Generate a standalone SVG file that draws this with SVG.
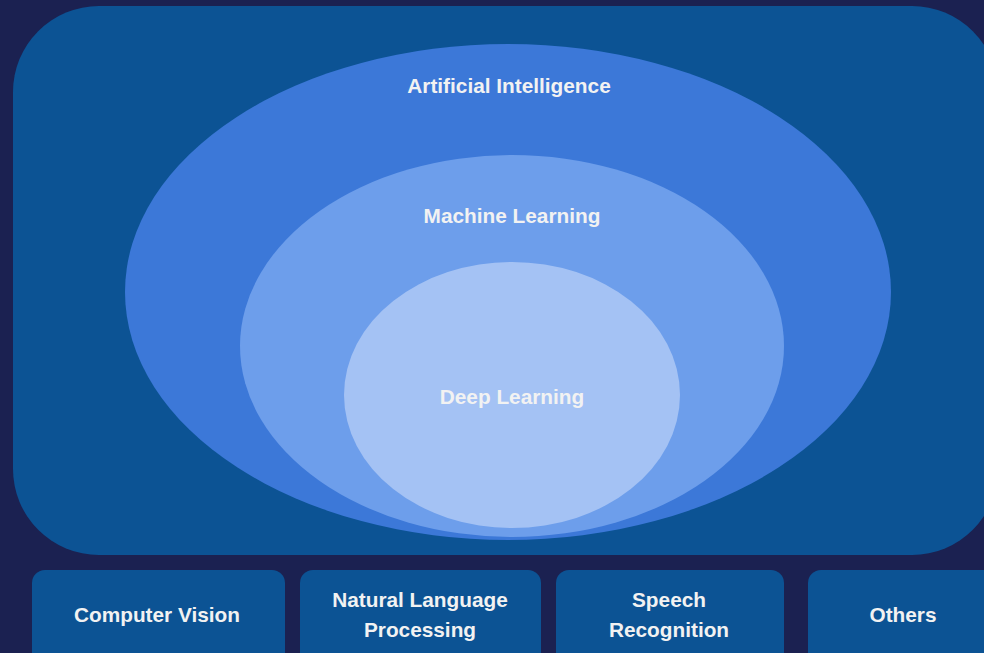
<svg xmlns="http://www.w3.org/2000/svg" width="984" height="653" viewBox="0 0 984 653">
<style>
.lbl{font-family:"Liberation Sans",Arial,sans-serif;font-weight:bold;font-size:20.8px;fill:#F2F2F2;text-anchor:middle}
.box{fill:#0C5394}
</style>
<rect x="0" y="0" width="984" height="653" fill="#1B2151"/>
<g id="frame">
<rect x="13" y="6" width="985" height="549" rx="86" ry="86" fill="#0C5394"/>
</g>
<g id="ai">
<ellipse cx="508" cy="292" rx="383" ry="248" fill="#3C78D8"/>
<text class="lbl" x="509" y="93">Artificial Intelligence</text>
</g>
<g id="ml">
<ellipse cx="512" cy="346" rx="272" ry="191" fill="#6D9EEB"/>
<text class="lbl" x="512" y="223">Machine Learning</text>
</g>
<g id="dl">
<ellipse cx="512" cy="395" rx="168" ry="133" fill="#A4C2F4"/>
<text class="lbl" x="512" y="404">Deep Learning</text>
</g>
<g id="cv">
<rect class="box" x="32" y="570" width="253" height="100" rx="13"/>
<text class="lbl" x="157" y="622">Computer Vision</text>
</g>
<g id="nlp">
<rect class="box" x="300" y="570" width="241" height="100" rx="13"/>
<text class="lbl" x="420" y="607">Natural Language</text>
<text class="lbl" x="420" y="637">Processing</text>
</g>
<g id="sr">
<rect class="box" x="556" y="570" width="228" height="100" rx="13"/>
<text class="lbl" x="669" y="607">Speech</text>
<text class="lbl" x="669" y="637">Recognition</text>
</g>
<g id="others">
<rect class="box" x="808" y="570" width="200" height="100" rx="13"/>
<text class="lbl" x="903" y="622">Others</text>
</g>
<g id="connectors"></g>
</svg>
